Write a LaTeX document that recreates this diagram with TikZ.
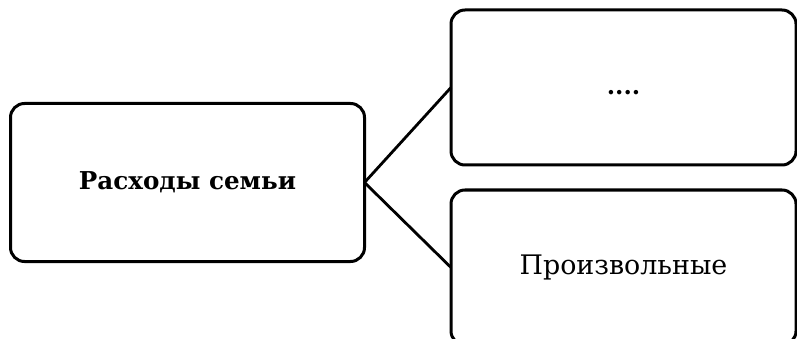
\documentclass[tikz,border=0pt]{standalone}
\usepackage{fontspec}
\setmainfont{DejaVu Serif}
\begin{document}
\begin{tikzpicture}[x=1pt,y=-1pt,
  box/.style={draw=black, line width=3pt, rounded corners=14pt, inner sep=0pt, outer sep=0pt, fill=white},
  conn/.style={draw=black, line width=2.8pt}]
\useasboundingbox (0,0) rectangle (797,339);
\clip (0,0) rectangle (797,339);
\fill[white] (0,0) rectangle (797,339);
\node[box, minimum width=354pt, minimum height=158pt, font=\bfseries\fontsize{24.6}{28}\selectfont] (L) at (187.5,182.5) {Расходы семьи};
\node[box, minimum width=345pt, minimum height=155pt, text height=15pt, text depth=0pt, font=\bfseries\fontsize{24}{28}\selectfont] (T) at (623.5,87.5) {....};
\node[box, minimum width=345pt, minimum height=155pt, font=\fontsize{26.9}{30}\selectfont] (B) at (623.5,267.5) {Произвольные};
\draw[conn] (L.east) -- (T.west);
\draw[conn] (L.east) -- (B.west);
\end{tikzpicture}
\end{document}
